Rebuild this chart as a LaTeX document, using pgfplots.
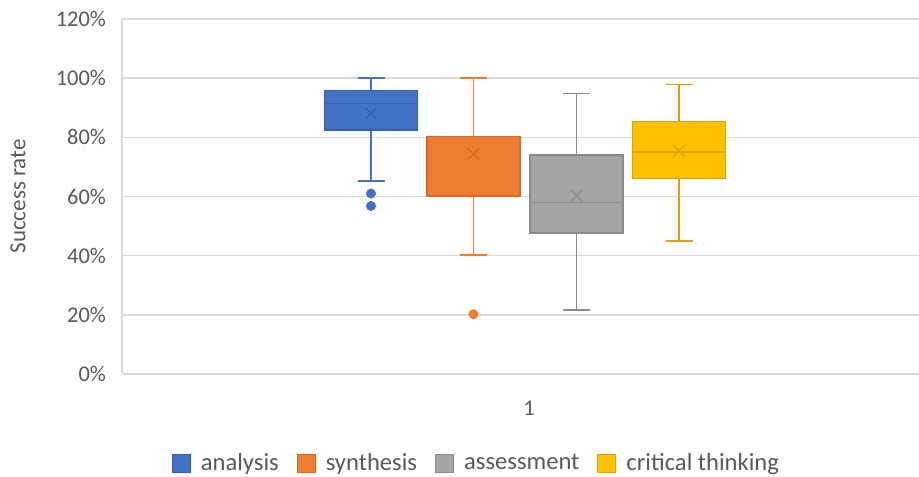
\documentclass[border=0pt]{standalone}
\usepackage{fontspec}
\setmainfont{Carlito}
\usepackage{pgfplots}
\pgfplotsset{compat=1.18}
\definecolor{blueF}{HTML}{4472C4}
\definecolor{blueE}{HTML}{3560B0}
\definecolor{orangeF}{HTML}{ED7D31}
\definecolor{orangeE}{HTML}{D46A24}
\definecolor{grayF}{HTML}{A5A5A5}
\definecolor{grayE}{HTML}{8A8A8A}
\definecolor{goldF}{HTML}{FFC000}
\definecolor{goldE}{HTML}{D9A400}
\definecolor{txt}{HTML}{595959}
\definecolor{gridc}{HTML}{D9D9D9}
\begin{document}
\begin{tikzpicture}
\begin{axis}[
  at={(0pt,0pt)}, anchor=south west,
  scale only axis,
  width=398.5pt, height=177.5pt,
  xmin=0, xmax=7.97,
  ymin=0, ymax=120,
  ytick={0,20,...,120},
  yticklabel={\pgfmathprintnumber{\tick}\%},
  /pgf/number format/assume math mode=true,
  xtick={4.07}, xticklabels={1},
  xticklabel style={yshift=-10pt},
  yticklabel style={xshift=-4.5pt},
  tick style={draw=none},
  ymajorgrids, xmajorgrids=false, grid style={draw=gridc, line width=0.75pt},
  axis line style={draw=none},
  ticklabel style={font=\fontsize{11.2}{13}\selectfont, text=txt},
  ylabel={Success rate},
  every axis y label/.style={at={(axis description cs:-0.1305,0.5)}, rotate=90, anchor=center, font=\fontsize{11.5}{13}\selectfont, text=txt},
  legend style={at={(axis description cs:0.446,-0.2507)}, anchor=center, draw=none, fill=none,
     font=\fontsize{12.3}{14}\selectfont, text=txt,
     /tikz/every odd column/.append style={column sep=3pt},
     /tikz/every even column/.append style={column sep=7pt}},
  legend columns=4,
  legend image code/.code={\draw[#1,line width=0.5pt] (0pt,-4.5pt) rectangle (9pt,4.5pt);},
  clip=false,
]
\addlegendimage{draw=blueE, fill=blueF}
\addlegendentry{analysis}
\addlegendimage{draw=orangeE, fill=orangeF}
\addlegendentry{synthesis}
\addlegendimage{draw=grayE, fill=grayF}
\addlegendentry{assessment}
\addlegendimage{draw=goldE, fill=goldF}
\addlegendentry{critical thinking}

% left axis line
\draw[gridc, line width=0.75pt] (axis cs:0,0) -- (axis cs:0,120);

% ---------- analysis (x = 2.49) ----------
\addplot[forget plot, draw=blueF, line width=0.75pt] coordinates {(2.49,65.3) (2.49,82.5)};
\addplot[forget plot, draw=blueF, line width=0.75pt] coordinates {(2.49,95.8) (2.49,100)};
\addplot[forget plot, draw=blueF, line width=0.75pt] coordinates {(2.355,65.3) (2.625,65.3)};
\addplot[forget plot, draw=blueF, line width=0.75pt] coordinates {(2.355,100) (2.625,100)};
\addplot[forget plot, draw=blueE, fill=blueF, line width=0.75pt] coordinates {(2.025,82.5) (2.955,82.5) (2.955,95.8) (2.025,95.8)} -- cycle;
\addplot[forget plot, draw=blueE, line width=0.75pt] coordinates {(2.025,91.5) (2.955,91.5)};

% ---------- synthesis (x = 3.515) ----------
\addplot[forget plot, draw=orangeF, line width=0.75pt] coordinates {(3.515,40.2) (3.515,60.2)};
\addplot[forget plot, draw=orangeF, line width=0.75pt] coordinates {(3.515,80.2) (3.515,100)};
\addplot[forget plot, draw=orangeF, line width=0.75pt] coordinates {(3.38,40.2) (3.65,40.2)};
\addplot[forget plot, draw=orangeF, line width=0.75pt] coordinates {(3.38,100) (3.65,100)};
\addplot[forget plot, draw=orangeE, fill=orangeF, line width=0.75pt] coordinates {(3.05,60.2) (3.98,60.2) (3.98,80.2) (3.05,80.2)} -- cycle;

% ---------- assessment (x = 4.545) ----------
\addplot[forget plot, draw=grayE, line width=0.75pt] coordinates {(4.545,21.6) (4.545,47.6)};
\addplot[forget plot, draw=grayE, line width=0.75pt] coordinates {(4.545,74.0) (4.545,94.9)};
\addplot[forget plot, draw=grayE, line width=0.75pt] coordinates {(4.41,21.6) (4.68,21.6)};
\addplot[forget plot, draw=grayE, line width=0.75pt] coordinates {(4.41,94.9) (4.68,94.9)};
\addplot[forget plot, draw=grayE, fill=grayF, line width=0.75pt] coordinates {(4.08,47.6) (5.01,47.6) (5.01,74.0) (4.08,74.0)} -- cycle;
\addplot[forget plot, draw=grayE, line width=0.75pt] coordinates {(4.08,58.0) (5.01,58.0)};

% ---------- critical thinking (x = 5.57) ----------
\addplot[forget plot, draw=goldE, line width=0.75pt] coordinates {(5.57,45.0) (5.57,66.0)};
\addplot[forget plot, draw=goldE, line width=0.75pt] coordinates {(5.57,85.3) (5.57,97.8)};
\addplot[forget plot, draw=goldE, line width=0.75pt] coordinates {(5.435,45.0) (5.705,45.0)};
\addplot[forget plot, draw=goldE, line width=0.75pt] coordinates {(5.435,97.8) (5.705,97.8)};
\addplot[forget plot, draw=goldE, fill=goldF, line width=0.75pt] coordinates {(5.105,66.0) (6.035,66.0) (6.035,85.3) (5.105,85.3)} -- cycle;
\addplot[forget plot, draw=goldE, line width=0.75pt] coordinates {(5.105,75.0) (6.035,75.0)};

% means
\addplot[forget plot, only marks, mark=x, mark size=4pt, mark options={draw=blueE, line width=0.7pt}] coordinates {(2.49,88.1)};
\addplot[forget plot, only marks, mark=x, mark size=4pt, mark options={draw=orangeE, line width=0.7pt}] coordinates {(3.515,74.3)};
\addplot[forget plot, only marks, mark=x, mark size=4pt, mark options={draw=grayE, line width=0.7pt}] coordinates {(4.545,60.3)};
\addplot[forget plot, only marks, mark=x, mark size=4pt, mark options={draw=goldE, line width=0.7pt}] coordinates {(5.57,75.4)};

% outliers
\addplot[forget plot, only marks, mark=*, mark size=2.3pt, mark options={draw=blueF, fill=blueF}] coordinates {(2.49,61.0) (2.49,56.8)};
\addplot[forget plot, only marks, mark=*, mark size=2.3pt, mark options={draw=orangeF, fill=orangeF}] coordinates {(3.515,20.2)};
\end{axis}
\pgfresetboundingbox
\path[use as bounding box] (-61pt,-51pt) rectangle (398.5pt,187pt);
\end{tikzpicture}
\end{document}
